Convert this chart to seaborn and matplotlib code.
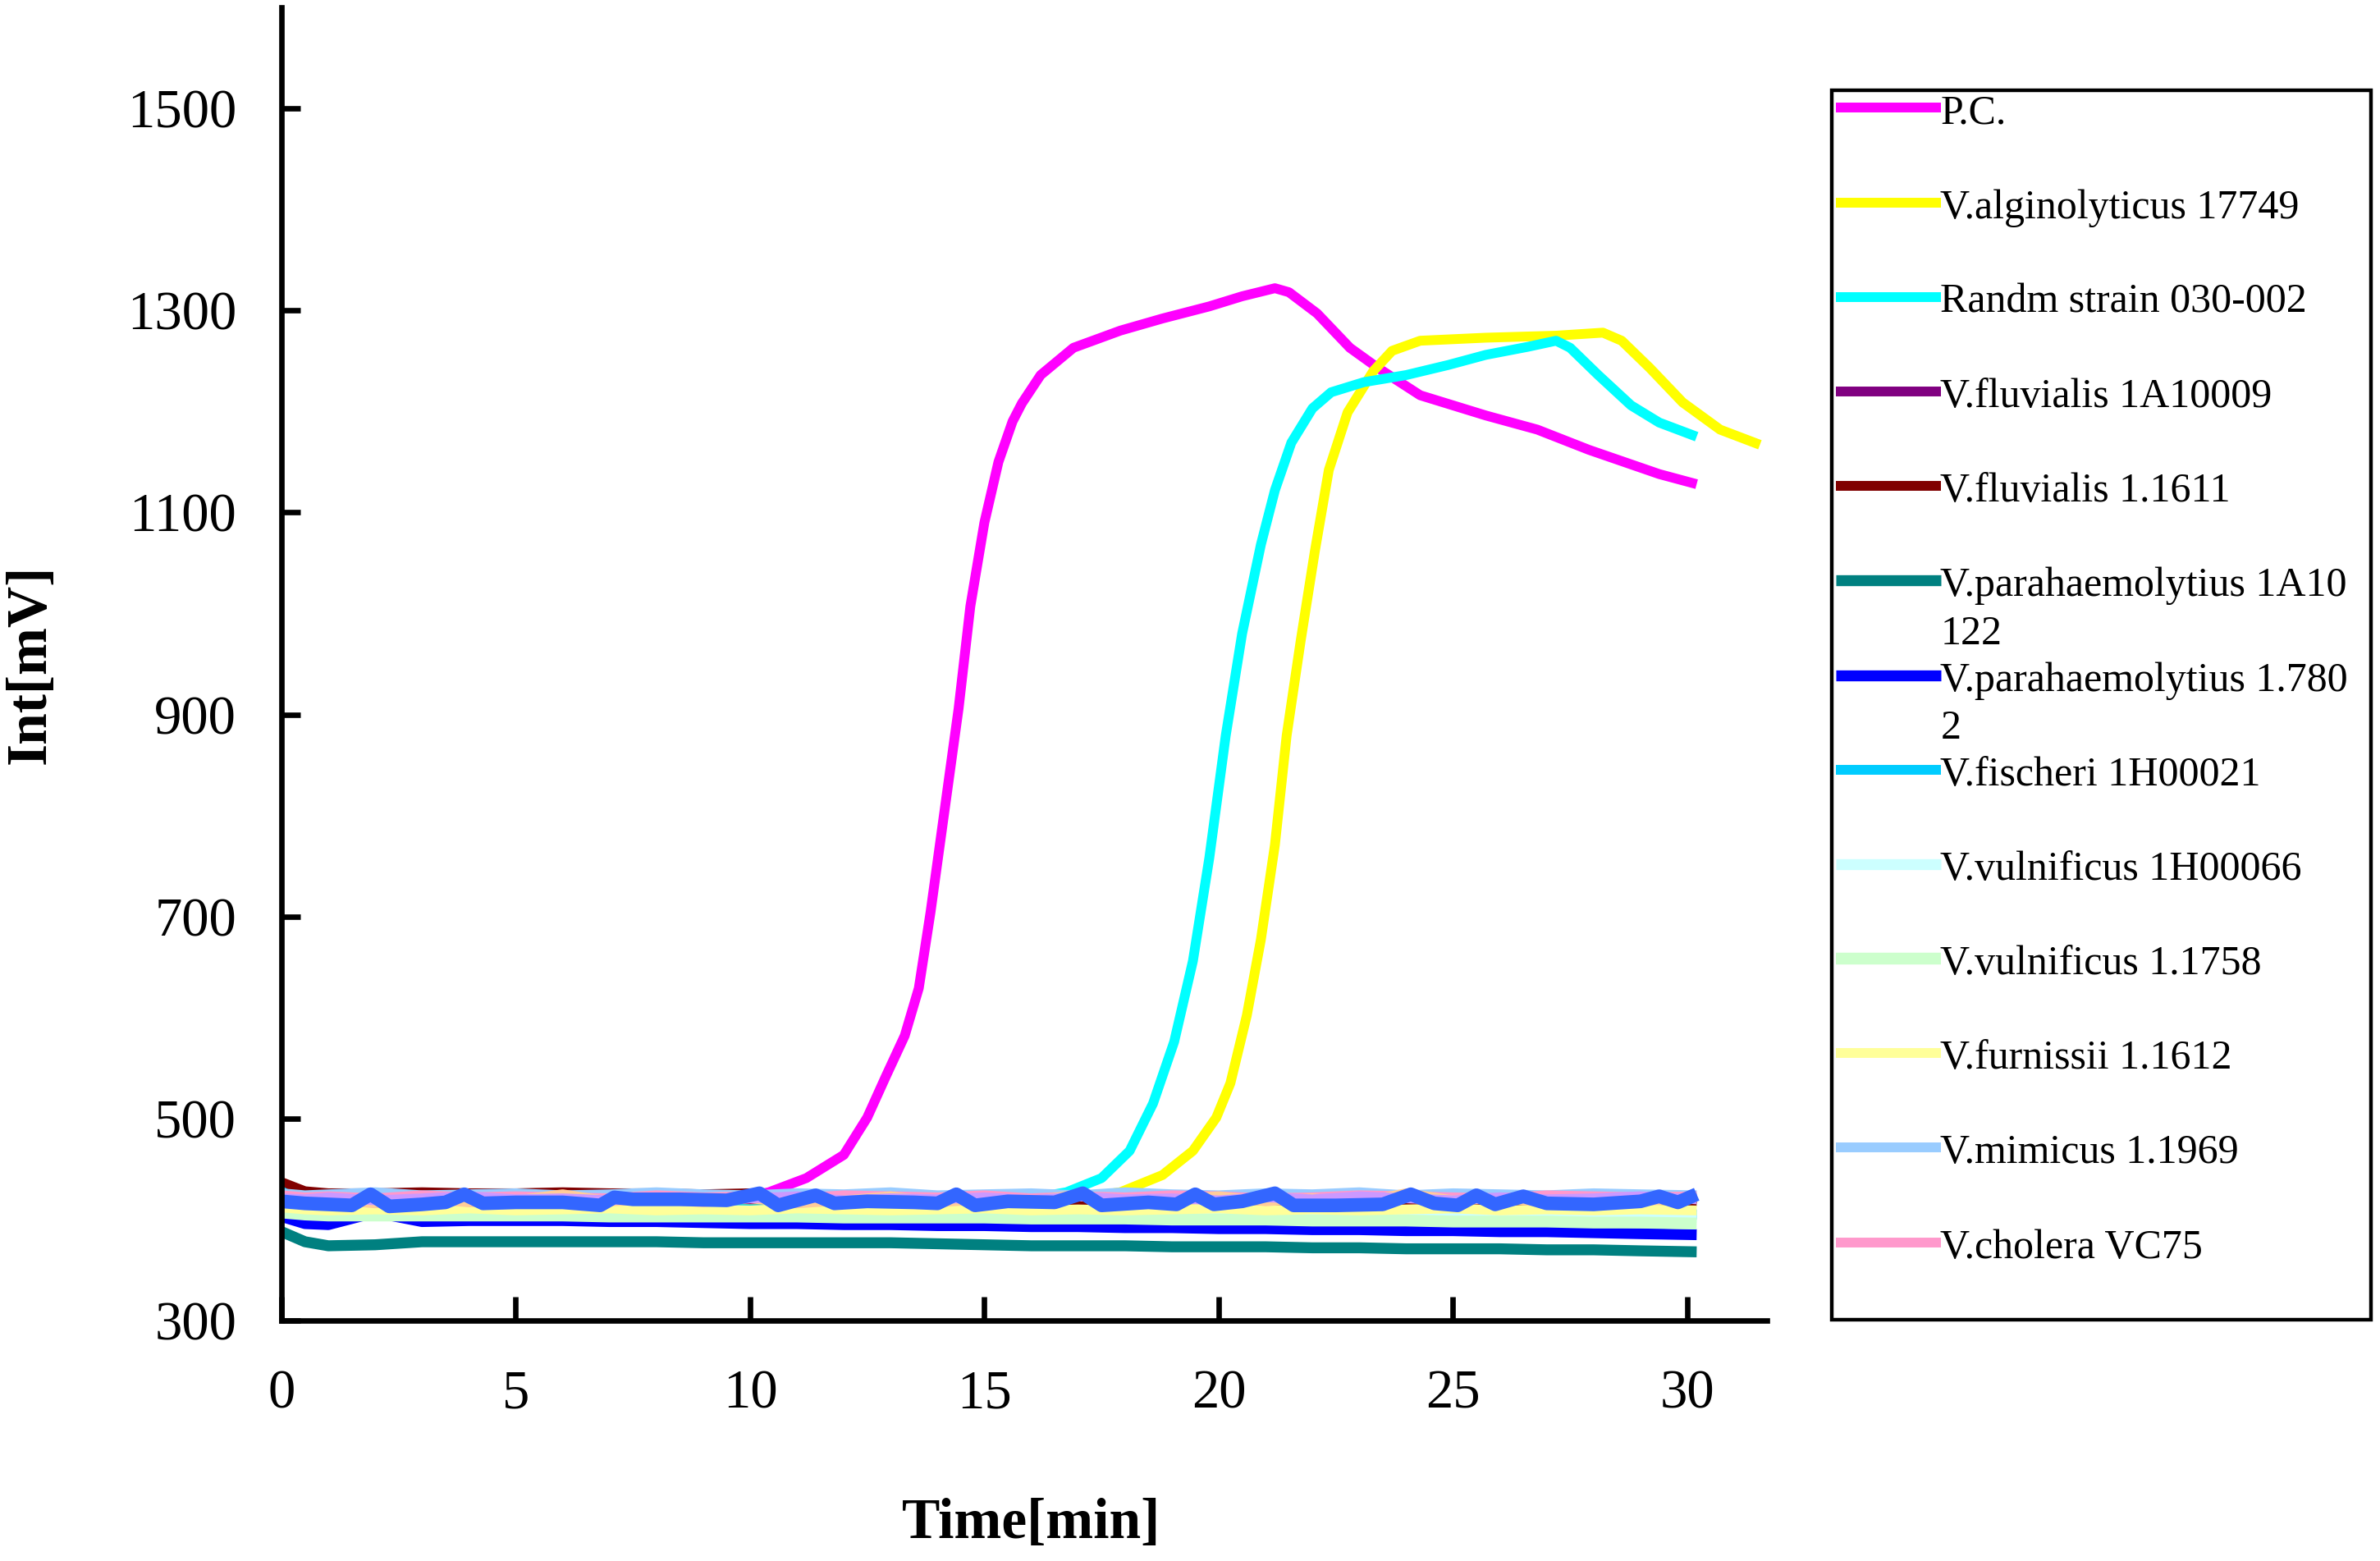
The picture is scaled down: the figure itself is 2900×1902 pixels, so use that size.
import matplotlib
matplotlib.use("Agg")
import matplotlib.pyplot as plt
import seaborn as sns
from matplotlib.lines import Line2D
from matplotlib.legend_handler import HandlerLine2D
from matplotlib.transforms import Affine2D

# ---------------- data ----------------
t_pc = [0, 1, 2, 3, 4, 5, 6, 7, 8, 9, 10, 10.4, 11.2, 12.0, 12.5, 12.9, 13.3, 13.6, 13.85, 14.15,
        14.45, 14.7, 15.0, 15.3, 15.6, 15.8, 16.2, 16.9, 17.9, 18.8, 19.8, 20.5, 21.2, 21.5, 22.1,
        22.8, 23.4, 24.3, 25.7, 26.8, 27.9, 29.4, 30.2]
v_pc = [422, 421, 420, 421, 420, 421, 420, 421, 420, 421, 423, 427, 441, 464, 501, 542, 582, 629, 704, 805,
        906, 1007, 1090, 1150, 1190, 1208, 1236, 1263, 1280, 1292, 1304, 1314, 1322, 1318, 1297,
        1263, 1243, 1216, 1196, 1182, 1162, 1138, 1128]

t_alg = [0, 1, 2, 3, 4, 5, 6, 7, 8, 9, 10, 11, 12, 13, 14, 15, 16, 17, 17.9, 18.8, 19.45, 19.95,
         20.25, 20.6, 20.9, 21.2, 21.45, 21.75, 22.05, 22.35, 22.75, 23.3, 23.7, 24.3, 25.7, 27.2,
         28.2, 28.6, 29.2, 29.9, 30.7, 31.55]
v_alg = [422, 420, 419, 420, 421, 419, 420, 419, 420, 421, 419, 420, 419, 420, 421, 419, 420, 421, 427, 444,
         468, 501, 535, 602, 677, 771, 879, 973, 1061, 1142, 1199, 1240, 1260, 1270, 1273, 1275,
         1278, 1270, 1243, 1209, 1182, 1167]

t_rs = [0, 1, 2, 3, 4, 5, 6, 7, 8, 9, 10, 11, 12, 13, 14, 15, 16, 16.75, 17.5, 18.1, 18.6, 19.05,
        19.45, 19.8, 20.15, 20.5, 20.9, 21.2, 21.55, 22.0, 22.4, 23.1, 24.0, 24.9, 25.7, 26.6, 27.2,
        27.5, 28.1, 28.8, 29.4, 30.2]
v_rs = [423, 420, 419, 420, 419, 420, 419, 420, 420, 419, 420, 419, 420, 419, 420, 419, 421, 427, 441, 468,
        515, 576, 656, 758, 879, 980, 1068, 1122, 1169, 1203, 1219, 1229, 1236, 1246, 1256, 1264,
        1270, 1263, 1236, 1206, 1189, 1175]

t_base = [0, 0.5, 1, 2, 3, 4, 5, 6, 7, 8, 9, 10, 11, 12, 13, 14, 15, 16, 17, 18, 19, 20, 21, 22,
          23, 24, 25, 26, 27, 28, 29, 30.2]
v_fluv_1a = [424, 421, 420, 421, 420, 421, 420, 421, 420, 420, 421, 420, 420, 421, 420, 420, 421, 420,
             420, 421, 420, 420, 421, 420, 420, 421, 420, 420, 421, 420, 420, 421]
v_fluv_1611 = [437, 428, 426, 426, 427, 426, 426, 427, 426, 426, 425, 426, 420, 419, 419, 418, 419, 418,
               419, 418, 419, 418, 419, 418, 419, 418, 419, 418, 419, 418, 419, 418]
v_para_1a = [388, 378, 374, 375, 378, 378, 378, 378, 378, 378, 377, 377, 377, 377, 377, 376, 375, 374,
             374, 374, 373, 373, 373, 372, 372, 371, 371, 371, 370, 370, 369, 368]
v_para_178 = [403, 396, 395, 407, 398, 399, 399, 399, 398, 398, 397, 396, 396, 395, 395, 394, 394, 393,
              393, 392, 392, 391, 391, 390, 390, 389, 389, 388, 388, 387, 386, 385]
v_fischeri = [428, 415, 413, 412, 412, 412, 411, 411, 411, 411, 411, 410, 410, 410, 410, 409, 409, 409,
              409, 408, 408, 408, 408, 408, 407, 407, 407, 406, 406, 406, 405, 405]
v_vuln_1h = [410, 409, 408, 408, 408, 408, 408, 408, 407, 407, 407, 407, 407, 406, 406, 406, 406, 406,
             405, 405, 405, 405, 405, 404, 404, 404, 404, 403, 403, 403, 403, 402]
v_vuln_1758 = [407, 405, 404, 404, 404, 404, 404, 404, 403, 403, 403, 403, 403, 402, 402, 402, 402, 401,
               401, 401, 400, 400, 400, 399, 399, 399, 398, 398, 398, 397, 397, 396]
v_furnissii = [412, 410, 409, 410, 409, 411, 409, 410, 411, 409, 410, 409, 411, 410, 409, 410, 411, 409,
               410, 409, 410, 411, 409, 410, 409, 410, 411, 409, 410, 409, 410, 409]
v_mimicus = [426, 424, 425, 427, 424, 425, 426, 424, 425, 427, 425, 424, 426, 425, 427, 424, 425, 426,
             424, 427, 425, 424, 426, 425, 427, 424, 426, 425, 424, 426, 425, 424]
v_cholera = [424, 422, 423, 421, 424, 422, 423, 422, 421, 424, 422, 423, 421, 424, 423, 422, 424, 421,
             423, 422, 424, 423, 421, 422, 424, 423, 422, 421, 424, 423, 422, 423]
v_extra_peach = [420, 418, 420, 416, 421, 417, 419, 425, 418, 420, 417, 421, 416, 419, 423, 417, 420, 418,
                 425, 417, 420, 423, 418, 421, 417, 426, 419, 421, 417, 420, 418, 422]
v_extra_lavender = [421, 420, 422, 419, 421, 423, 420, 421, 419, 422, 420, 421, 423, 419, 421, 420, 422, 419,
                    423, 420, 421, 419, 422, 420, 423, 421, 419, 422, 420, 421, 423, 420]

t_extra_royal = [0, 0.5, 1.0, 1.5, 1.9, 2.3, 3.0, 3.5, 3.9, 4.3, 5.0, 6.0, 6.8, 7.1, 7.5, 8.5, 9.5, 10.2,
                 10.6, 11.0, 11.4, 11.8, 12.5, 13.5, 14.0, 14.4, 14.8, 15.5, 16.5, 17.1, 17.5, 18.5, 19.1,
                 19.5, 19.9, 20.5, 21.2, 21.6, 22.5, 23.5, 24.1, 24.6, 25.1, 25.5, 25.9, 26.5, 27.0, 28.0,
                 29.0, 29.4, 29.8, 30.2]
v_extra_royal = [418, 416, 415, 414, 425, 413, 415, 417, 425, 416, 417, 417, 414, 422, 420, 420, 419, 426,
                 414, 419, 424, 416, 418, 417, 416, 425, 414, 418, 417, 426, 414, 417, 415,
                 425, 415, 418, 426, 414, 414, 415, 425, 416, 414, 424, 415, 423, 416, 415,
                 418, 423, 417, 425]

series_names = ["P.C.", "V.alginolyticus 17749", "Randm strain 030-002", "V.fluvialis 1A10009",
                "V.fluvialis 1.1611", "V.parahaemolytius 1A10122", "V.parahaemolytius 1.7802",
                "V.fischeri 1H00021", "V.vulnificus 1H00066", "V.vulnificus 1.1758",
                "V.furnissii 1.1612", "V.mimicus 1.1969", "V.cholera VC75",
                "series 14", "series 15", "series 16"]
legend_labels = ["P.C.\n", "V.alginolyticus 17749\n", "Randm strain 030-002\n", "V.fluvialis 1A10009\n",
                 "V.fluvialis 1.1611\n", "V.parahaemolytius 1A10\n122", "V.parahaemolytius 1.780\n2",
                 "V.fischeri 1H00021\n", "V.vulnificus 1H00066\n", "V.vulnificus 1.1758\n",
                 "V.furnissii 1.1612\n", "V.mimicus 1.1969\n", "V.cholera VC75\n"]
series_times = [t_pc, t_alg, t_rs, t_base, t_base, t_base, t_base, t_base, t_base, t_base,
                t_base, t_base, t_base, t_base, t_base, t_extra_royal]
series_values = [v_pc, v_alg, v_rs, v_fluv_1a, v_fluv_1611, v_para_1a, v_para_178, v_fischeri,
                 v_vuln_1h, v_vuln_1758, v_furnissii, v_mimicus, v_cholera, v_extra_peach,
                 v_extra_lavender, v_extra_royal]
series_colors = ["#FF00FF", "#FFFF00", "#00FFFF", "#800080", "#800000", "#008080", "#0000FF",
                 "#00CCFF", "#CCFFFF", "#CCFFCC", "#FFFF99", "#99CCFF", "#FF99CC",
                 "#FFCC99", "#CC99FF", "#3366FF"]
series_widths = [4.3, 4.3, 4.3, 4.3, 4.3, 4.8, 4.8, 4.3, 4.8, 5.2, 4.3, 4.3, 4.3, 4.3, 4.3, 6.0]

# ---------------- style ----------------
sns.set_style("white")
plt.rcParams["font.family"] = ["Liberation Serif", "DejaVu Serif"]
plt.rcParams["axes.linewidth"] = 2.4

fig = plt.figure(figsize=(14.5, 9.51), dpi=200)
ax = fig.add_axes([343 / 2900, 1 - 1609 / 1902, (2153 - 343) / 2900, (1609 - 9) / 1902])

for name, t, v, c, lw in zip(series_names, series_times, series_values, series_colors, series_widths):
    sns.lineplot(x=t, y=v, ax=ax, color=c, linewidth=lw, estimator=None, sort=False,
                 legend=False)
    line = ax.lines[-1]
    line.set_label(name)
    line.set_linewidth(lw)
    line.set_solid_capstyle("butt")
    line.set_solid_joinstyle("round")

ax.set_xlim(0, 31.7)
ax.set_ylim(300, 1600)
ax.set_xticks([0, 5, 10, 15, 20, 25, 30])
ax.set_yticks([300, 500, 700, 900, 1100, 1300, 1500])
for s in ["top", "right"]:
    ax.spines[s].set_visible(False)
for s in ["left", "bottom"]:
    ax.spines[s].set_color("black")
    ax.spines[s].set_linewidth(2.4)
ax.tick_params(axis="x", direction="in", length=10.5, width=2.4, pad=21.5, labelsize=24,
               colors="black", bottom=True)
ax.tick_params(axis="y", direction="in", length=8.3, width=2.4, pad=19.8, labelsize=24,
               colors="black", left=True)
ax.grid(False)

ax.set_xlabel("Time[min]", fontsize=25, fontweight="bold", color="black")
ax.set_ylabel("Int[mV]", fontsize=25, fontweight="bold", color="black")
ax.xaxis.set_label_coords(0.505, -0.135)
ax.yaxis.set_label_coords(-0.151, 0.5)


class FirstLineHandler(HandlerLine2D):
    """Place the legend line next to the first line of a two-line label."""

    def __init__(self, shift, **kw):
        super().__init__(**kw)
        self._shift = shift

    def create_artists(self, legend, orig_handle, xdescent, ydescent, width, height,
                       fontsize, trans):
        trans = Affine2D().translate(0, self._shift) + trans
        return super().create_artists(legend, orig_handle, xdescent, ydescent, width, height,
                                      fontsize, trans)


leg_fs = 18
leg = fig.legend(ax.lines[:13], legend_labels, loc="upper left",
                 bbox_to_anchor=(2232 / 2900, 1 - 1604 / 1902, (2889 - 2232) / 2900, (1604 - 110) / 1902),
                 bbox_transform=fig.transFigure, mode="expand", borderaxespad=0, borderpad=0.1,
                 handlelength=2.55, handletextpad=0.0, labelspacing=0.195, fontsize=leg_fs,
                 frameon=True, fancybox=False, edgecolor="black", framealpha=1, shadow=False,
                 handler_map={Line2D: FirstLineHandler(shift=0.73 * leg_fs)})
leg.get_frame().set_linewidth(1.6)
for txt in leg.get_texts():
    txt.set_linespacing(1.35)
    txt.set_color("black")

fig.savefig("out.png", dpi=200, facecolor="white")
